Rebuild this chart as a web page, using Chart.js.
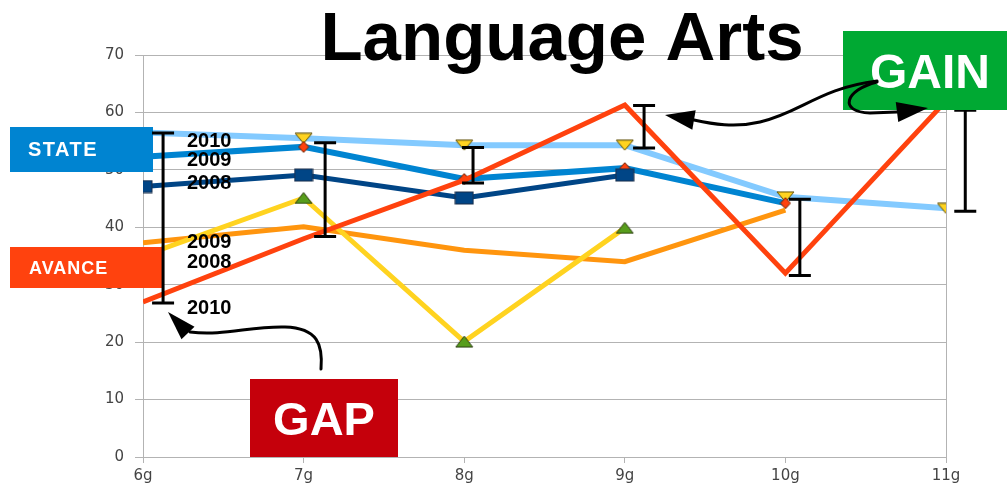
<!DOCTYPE html>
<html>
<head>
<meta charset="utf-8">
<script src="https://cdn.jsdelivr.net/npm/chart.js@4/dist/chart.umd.min.js"></script>
<style>
  html, body { margin: 0; padding: 0; background: #fff; }
  #wrap { width: 1007px; height: 485px; }
</style>
</head>
<body>
<div id="wrap"><canvas id="langChart"></canvas></div>
<script>
const grades = ['6g', '7g', '8g', '9g', '10g', '11g'];
const state2010 = [56.5, 55.5, 54.3, 54.3, 45.3, 43.3];
const state2009 = [52.3, 54.0, 48.4, 50.3, 44.2, null];
const state2008 = [47.1, 49.1, 45.1, 49.1, null, null];
const avance2010 = [27.0, 38.0, 48.2, 61.3, 32.0, 62.0];
const avance2009 = [37.3, 40.1, 36.0, 34.0, 43.0, null];
const avance2008 = [35.0, 45.1, 20.1, 39.9, null, null];

// black gap bars: position (in grade steps) and their two ends
const gapAt = [0.125, 1.134, 2.055, 3.12, 4.09, 5.12];
const gapTop = [56.4, 54.7, 53.9, 61.2, 44.9, 60.4];
const gapBottom = [26.8, 38.4, 47.7, 53.8, 31.6, 42.8];

const yTicks = [0, 10, 20, 30, 40, 50, 60, 70];

const pts = arr => arr.map((v, i) => ({ x: i, y: v }));

// little canvases for the odd shaped markers
function marker(w, h, draw) {
  const c = document.createElement('canvas');
  c.width = w + 2;
  c.height = h + 2;
  const g = c.getContext('2d');
  g.translate(1, 1);
  draw(g, w, h);
  return c;
}
const downTri = marker(17, 10, (g, w, h) => {
  g.beginPath(); g.moveTo(0, 0); g.lineTo(w, 0); g.lineTo(w / 2, h); g.closePath();
  g.fillStyle = '#ffd320'; g.fill(); g.strokeStyle = '#5a4a00'; g.lineWidth = 1; g.stroke();
});
const upTri = marker(17, 11, (g, w, h) => {
  g.beginPath(); g.moveTo(0, h); g.lineTo(w, h); g.lineTo(w / 2, 0); g.closePath();
  g.fillStyle = '#579d1c'; g.fill(); g.strokeStyle = '#2a3a10'; g.lineWidth = 1; g.stroke();
});
const diamond = marker(10, 11, (g, w, h) => {
  g.beginPath(); g.moveTo(w / 2, 0); g.lineTo(w, h / 2); g.lineTo(w / 2, h); g.lineTo(0, h / 2); g.closePath();
  g.fillStyle = '#ff420e'; g.fill(); g.strokeStyle = '#6a2000'; g.lineWidth = 1; g.stroke();
});
const square = marker(18, 12, (g, w, h) => {
  g.fillStyle = '#004586'; g.fillRect(0, 0, w, h);
  g.strokeStyle = '#1a2f4a'; g.lineWidth = 1; g.strokeRect(0, 0, w, h);
});

function arrowHead(ctx, bx, by, tx, ty, half) {
  const dx = tx - bx, dy = ty - by;
  const len = Math.hypot(dx, dy);
  const nx = -dy / len * half, ny = dx / len * half;
  ctx.beginPath();
  ctx.moveTo(tx, ty);
  ctx.lineTo(bx + nx, by + ny);
  ctx.lineTo(bx - nx, by - ny);
  ctx.closePath();
  ctx.fill();
}

function box(ctx, x, y, w, h, color, text, font, tx, ty, align, spacing) {
  ctx.fillStyle = color;
  ctx.fillRect(x, y, w, h);
  ctx.fillStyle = '#fff';
  ctx.font = font;
  ctx.letterSpacing = spacing || '0px';
  ctx.textAlign = align;
  ctx.textBaseline = 'middle';
  ctx.fillText(text, tx, ty);
  ctx.letterSpacing = '0px';
}

const extras = {
  id: 'extras',
  afterDraw(chart) {
    const { ctx, scales: { x, y } } = chart;
    ctx.save();

    box(ctx, 10, 127, 143, 45, '#0084d1', 'STATE', 'bold 20px "Liberation Sans"', 28, 150, 'left', '1.5px');
    box(ctx, 10, 247, 154, 41, '#ff420e', 'AVANCE', 'bold 18px "Liberation Sans"', 29, 269, 'left', '1px');
    box(ctx, 250, 379, 148, 78, '#c5000b', 'GAP', 'bold 47px "Liberation Sans"', 324, 422, 'center');

    // gap bars
    ctx.strokeStyle = '#000';
    ctx.lineWidth = 3;
    for (let i = 0; i < gapAt.length; i++) {
      const px = x.getPixelForValue(gapAt[i]);
      const t = y.getPixelForValue(gapTop[i]);
      const b = y.getPixelForValue(gapBottom[i]);
      ctx.beginPath();
      ctx.moveTo(px, t); ctx.lineTo(px, b);
      ctx.moveTo(px - 11, t); ctx.lineTo(px + 11, t);
      ctx.moveTo(px - 11, b); ctx.lineTo(px + 11, b);
      ctx.stroke();
    }

    box(ctx, 843, 31, 164, 79, '#00a933', 'GAIN', 'bold 48px "Liberation Sans"', 930, 75, 'center');

    // year labels next to the 6g end
    ctx.fillStyle = '#000';
    ctx.font = 'bold 20px "Liberation Sans"';
    ctx.textAlign = 'left';
    ctx.textBaseline = 'middle';
    const lx = x.getPixelForValue(0) + 44;
    [['2010', 55.0], ['2009', 51.7], ['2008', 47.7], ['2009', 37.4], ['2008', 33.9], ['2010', 25.9]]
      .forEach(([t, v]) => ctx.fillText(t, lx, y.getPixelForValue(v)));

    // arrows
    ctx.strokeStyle = '#000';
    ctx.fillStyle = '#000';
    ctx.lineWidth = 3;
    ctx.lineCap = 'round';
    ctx.beginPath();
    ctx.moveTo(321, 369);
    ctx.bezierCurveTo(323, 345, 318, 328, 285, 327);
    ctx.bezierCurveTo(250, 326, 225, 336, 190, 332);
    ctx.stroke();
    arrowHead(ctx, 188, 333, 168, 312, 9);

    ctx.beginPath();
    ctx.moveTo(877, 81);
    ctx.bezierCurveTo(820, 88, 800, 113, 760, 122);
    ctx.bezierCurveTo(735, 128, 712, 124, 694, 120);
    ctx.stroke();
    arrowHead(ctx, 694, 120, 665, 115, 10);

    ctx.beginPath();
    ctx.moveTo(877, 82);
    ctx.bezierCurveTo(845, 90, 838, 112, 870, 113);
    ctx.lineTo(897, 112);
    ctx.stroke();
    arrowHead(ctx, 897, 112, 928, 108, 10);

    // title
    ctx.fillStyle = '#000';
    ctx.font = 'bold 69px "Liberation Sans"';
    ctx.textAlign = 'center';
    ctx.textBaseline = 'alphabetic';
    ctx.fillText('Language Arts', 562, 60);

    ctx.restore();
  }
};

const line = (data, color, width, style, radius, order) => ({
  data: pts(data),
  borderColor: color,
  backgroundColor: color,
  borderWidth: width,
  pointStyle: style,
  pointRadius: radius,
  pointHoverRadius: radius,
  tension: 0,
  spanGaps: false,
  order: order,
});

new Chart(document.getElementById('langChart'), {
  type: 'line',
  data: {
    datasets: [
      line(avance2010, '#ff420e', 5, false, 0, 1),
      line(avance2008, '#ffd320', 5, upTri, 6, 2),
      line(avance2009, '#ff950e', 5, false, 0, 3),
      line(state2008, '#004586', 5, square, 6, 4),
      line(state2009, '#0084d1', 6, diamond, 6, 5),
      line(state2010, '#83caff', 6, downTri, 6, 6),
    ]
  },
  options: {
    responsive: true,
    maintainAspectRatio: false,
    animation: false,
    devicePixelRatio: 1,
    layout: { padding: { top: 55, right: 61, left: 0, bottom: 0 } },
    plugins: {
      legend: { display: false },
      title: { display: false },
      tooltip: { enabled: false },
    },
    scales: {
      x: {
        type: 'linear',
        min: 0,
        max: grades.length - 1,
        afterFit: s => { s.height = 28; },
        ticks: {
          stepSize: 1,
          callback: v => grades[v],
          color: '#444',
          font: { family: 'DejaVu Sans', size: 15 },
          padding: 4,
        },
        grid: {
          color: c => (c.index === 0 || c.index === grades.length - 1) ? '#b3b3b3' : 'rgba(0,0,0,0)',
          tickColor: '#b3b3b3',
          tickLength: 6,
        },
        border: { color: '#b3b3b3' },
      },
      y: {
        min: yTicks[0],
        max: yTicks[yTicks.length - 1],
        afterFit: s => { s.width = 143; },
        afterBuildTicks: s => { s.ticks = yTicks.map(v => ({ value: v })); },
        ticks: {
          color: '#444',
          font: { family: 'DejaVu Sans', size: 15 },
          padding: 11,
        },
        grid: {
          color: '#b3b3b3',
          tickColor: '#b3b3b3',
          tickLength: 8,
        },
        border: { color: '#b3b3b3' },
      }
    }
  },
  plugins: [extras],
});
</script>
</body>
</html>
